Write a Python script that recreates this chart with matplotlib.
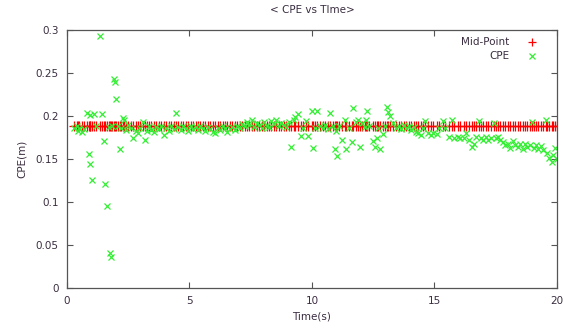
import matplotlib
matplotlib.use("Agg")
import matplotlib.pyplot as plt
from matplotlib.ticker import FormatStrFormatter

time = [
    0.30, 0.40, 0.45, 0.50, 0.60, 0.70, 0.82, 0.88, 0.92, 0.94,
    1.01, 1.10, 1.20, 1.36, 1.42, 1.50, 1.55, 1.62, 1.70, 1.74,
    1.78, 1.85, 1.93, 1.96, 2.01, 2.10, 2.15, 2.22, 2.29, 2.32,
    2.40, 2.50, 2.60, 2.70, 2.80, 2.90, 3.00, 3.10, 3.18, 3.25,
    3.35, 3.45, 3.54, 3.65, 3.75, 3.85, 3.95, 4.05, 4.15, 4.25,
    4.35, 4.45, 4.55, 4.65, 4.75, 4.85, 4.95, 5.05, 5.15, 5.25,
    5.35, 5.45, 5.55, 5.65, 5.75, 5.85, 5.95, 6.05, 6.15, 6.25,
    6.35, 6.45, 6.55, 6.65, 6.75, 6.85, 6.95, 7.05, 7.15, 7.25,
    7.35, 7.45, 7.55, 7.65, 7.75, 7.85, 7.95, 8.05, 8.15, 8.25,
    8.35, 8.45, 8.55, 8.65, 8.75, 8.85, 8.95, 9.05, 9.14, 9.25,
    9.30, 9.43, 9.55, 9.63, 9.75, 9.85, 9.99, 10.04, 10.12, 10.22,
    10.32, 10.45, 10.55, 10.65, 10.73, 10.85, 10.94, 11.00, 11.03, 11.12,
    11.21, 11.35, 11.39, 11.52, 11.62, 11.69, 11.80, 11.90, 11.96, 12.05,
    12.15, 12.22, 12.26, 12.35, 12.50, 12.57, 12.64, 12.70, 12.78, 12.91,
    13.00, 13.07, 13.12, 13.20, 13.30, 13.45, 13.55, 13.65, 13.75, 13.85,
    13.95, 14.05, 14.15, 14.25, 14.35, 14.45, 14.55, 14.62, 14.75, 14.85,
    14.95, 15.09, 15.20, 15.36, 15.45, 15.60, 15.74, 15.80, 15.95, 16.05,
    16.20, 16.30, 16.40, 16.52, 16.60, 16.70, 16.83, 16.90, 17.00, 17.10,
    17.20, 17.30, 17.43, 17.50, 17.60, 17.70, 17.80, 17.90, 18.00, 18.10,
    18.20, 18.30, 18.40, 18.50, 18.60, 18.70, 18.80, 18.90, 18.97, 19.05,
    19.15, 19.25, 19.35, 19.45, 19.55, 19.60, 19.70, 19.80, 19.85, 19.92,
    20.00,
]
cpe = [
    0.186, 0.188, 0.183, 0.186, 0.182, 0.185, 0.203, 0.156, 0.144, 0.201,
    0.126, 0.202, 0.188, 0.293, 0.202, 0.171, 0.121, 0.095, 0.187, 0.041,
    0.036, 0.188, 0.243, 0.240, 0.220, 0.188, 0.162, 0.186, 0.198, 0.195,
    0.184, 0.190, 0.186, 0.174, 0.183, 0.180, 0.186, 0.193, 0.172, 0.183,
    0.188, 0.184, 0.182, 0.187, 0.185, 0.189, 0.178, 0.186, 0.183, 0.188,
    0.185, 0.203, 0.187, 0.184, 0.188, 0.186, 0.183, 0.188, 0.185, 0.187,
    0.184, 0.189, 0.186, 0.183, 0.187, 0.185, 0.182, 0.180, 0.186, 0.184,
    0.188, 0.186, 0.181, 0.185, 0.187, 0.184, 0.189, 0.186, 0.191, 0.188,
    0.193, 0.190, 0.195, 0.187, 0.192, 0.190, 0.186, 0.193, 0.189, 0.187,
    0.194, 0.191, 0.195, 0.188, 0.192, 0.190, 0.187, 0.193, 0.164, 0.195,
    0.199, 0.202, 0.177, 0.186, 0.194, 0.177, 0.206, 0.163, 0.186, 0.206,
    0.189, 0.186, 0.190, 0.185, 0.204, 0.188, 0.162, 0.183, 0.153, 0.188,
    0.172, 0.195, 0.162, 0.186, 0.170, 0.209, 0.193, 0.195, 0.164, 0.192,
    0.187, 0.195, 0.206, 0.188, 0.171, 0.164, 0.174, 0.186, 0.162, 0.179,
    0.189, 0.211, 0.205, 0.200, 0.192, 0.186, 0.189, 0.185, 0.190, 0.186,
    0.188, 0.184, 0.187, 0.182, 0.180, 0.178, 0.186, 0.194, 0.180, 0.178,
    0.180, 0.179, 0.186, 0.194, 0.186, 0.176, 0.195, 0.175, 0.176, 0.174,
    0.174, 0.180, 0.172, 0.164, 0.168, 0.176, 0.194, 0.174, 0.172, 0.176,
    0.172, 0.175, 0.192, 0.174, 0.176, 0.172, 0.170, 0.166, 0.168, 0.163,
    0.171, 0.166, 0.164, 0.168, 0.162, 0.167, 0.164, 0.166, 0.193, 0.163,
    0.166, 0.162, 0.165, 0.160, 0.195, 0.157, 0.151, 0.147, 0.155, 0.163,
    0.150,
]
mid_point = 0.188
mid = [mid_point] * len(time)

xticks = [0, 5, 10, 15, 20]
yticks = [0, 0.05, 0.1, 0.15, 0.2, 0.25, 0.3]

text_col = "#3a2d40"
frame_col = "#555555"

plt.rcParams["font.family"] = "DejaVu Sans"
plt.rcParams["font.size"] = 7.5

fig = plt.figure(figsize=(5.63, 3.30), dpi=100)
ax = fig.add_axes([0.119, 0.127, 0.870, 0.782])

ax.plot(time, mid, "+", color="#ff0000", markersize=6.5, markeredgewidth=0.9,
        label="Mid-Point", linestyle="none")
ax.plot(time, cpe, "x", color="#33ee33", markersize=5, markeredgewidth=0.9,
        label="CPE", linestyle="none")

ax.set_xlim(0, 20)
ax.set_ylim(0, 0.3)
ax.set_xticks(xticks)
ax.set_yticks(yticks)
ax.yaxis.set_major_formatter(FormatStrFormatter("%g"))
ax.tick_params(direction="in", top=True, right=True, length=4, width=0.8,
               color=frame_col, labelcolor=text_col, pad=6)
for s in ax.spines.values():
    s.set_color(frame_col)
    s.set_linewidth(0.9)

ax.set_title("< CPE vs TIme>", color=text_col, fontsize=7.5, pad=12)
ax.set_xlabel("Time(s)", color=text_col)
ax.set_ylabel("CPE(m)", color=text_col, labelpad=6)

leg = ax.legend(loc="upper right", bbox_to_anchor=(0.986, 1.0), frameon=False,
                markerfirst=False, handletextpad=1.2, borderaxespad=0.3,
                labelspacing=0.4, markerscale=0.85)
for t in leg.get_texts():
    t.set_color(text_col)

fig.savefig("out.png", dpi=100)
